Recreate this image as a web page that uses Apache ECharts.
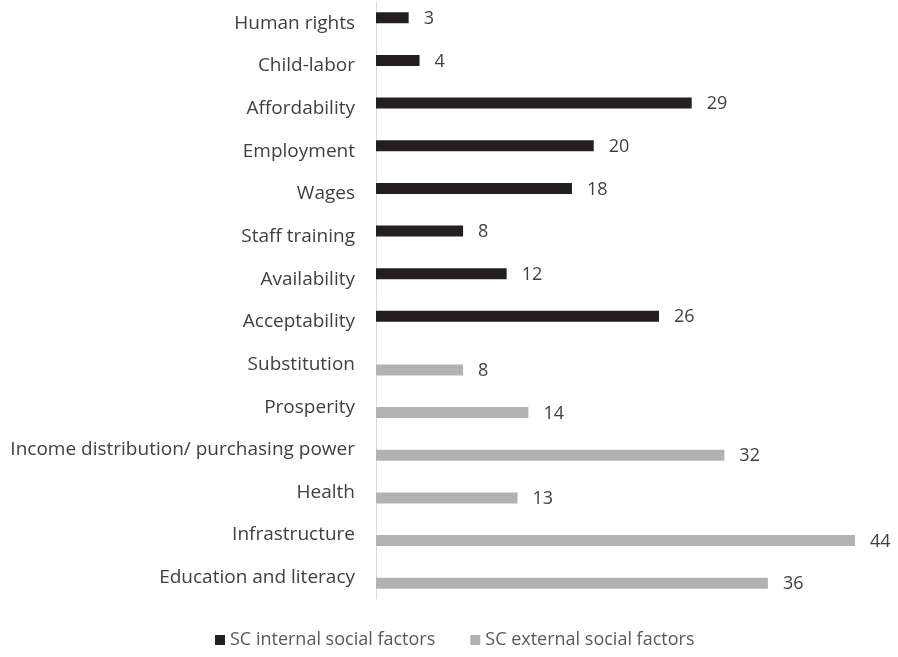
<!DOCTYPE html>
<html>
<head>
<meta charset="utf-8">
<script src="https://cdn.jsdelivr.net/npm/echarts@6/dist/echarts.min.js"></script>
<style>html,body{margin:0;padding:0;background:#fff;}#c{width:898px;height:657px;}</style>
</head>
<body>
<div id="c"></div>
<script>
const categories = ["Human rights","Child-labor","Affordability","Employment","Wages","Staff training","Availability","Acceptability","Substitution","Prosperity","Income distribution/ purchasing power","Health","Infrastructure","Education and literacy"];
const internalValues = [3,4,29,20,18,8,12,26,null,null,null,null,null,null];
const externalValues = [null,null,null,null,null,null,null,null,8,14,32,13,44,36];
const seriesNames = ["SC internal social factors","SC external social factors"];

const FONT = "Open Sans";
const chart = echarts.init(document.getElementById('c'), null, {renderer:'canvas'});
const labelStyle = {show:true, position:'right', distance:15, offset:[0,1], color:'#404040', fontSize:18, fontFamily:FONT};
chart.setOption({
  animation:false,
  grid:{left:376, width:479, top:2, height:597},
  legend:{
    bottom:3, left:210, itemWidth:10, itemHeight:10, itemGap:35, icon:'rect',
    textStyle:{color:'#595959', fontSize:18, fontFamily:FONT},
    data:seriesNames
  },
  xAxis:{type:'value', min:0, max:44, show:false},
  yAxis:{
    type:'category', data:categories, inverse:true,
    axisLine:{show:true, lineStyle:{color:'#d9d9d9', width:1}},
    axisTick:{show:false},
    axisLabel:{color:'#404040', fontSize:19, fontFamily:FONT, margin:21}
  },
  series:[
    {name:seriesNames[0], type:'bar', data:internalValues, barWidth:11, barGap:'0%',
     itemStyle:{color:'#231f20'}, label:labelStyle},
    {name:seriesNames[1], type:'bar', data:externalValues, barWidth:11, barGap:'0%',
     itemStyle:{color:'#b1b2b4'}, label:labelStyle}
  ]
});
</script>
</body>
</html>
